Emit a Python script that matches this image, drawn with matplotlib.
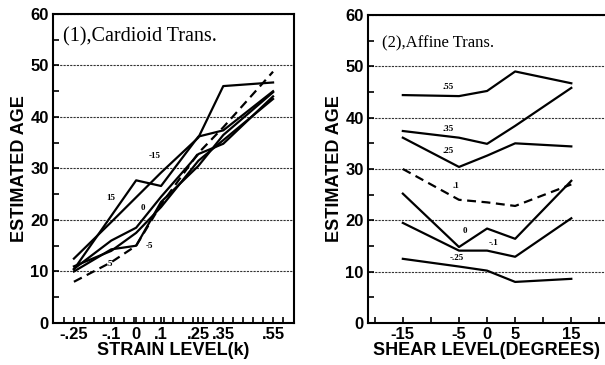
import numpy as np
import matplotlib
matplotlib.use('Agg')
import matplotlib.pyplot as plt

# (1) cardioid transformation: estimated age vs strain level, one line per shear level
strain_levels = [-0.25, -0.1, 0, 0.1, 0.25, 0.35, 0.55]
strain_tick_labels = ['-.25', '-.1', '0', '.1', '.25', '.35', '.55']
card_shear_15 = [10.4, 20.8, 27.7, 26.6, 36.2, 37.4, 45.0]
card_shear_m15 = [12.5, 19.6, 24.4, 29.2, 36.0, 46.0, 46.7]
card_shear_0 = [10.5, 16.0, 18.5, 24.5, 32.8, 34.8, 44.0]
card_shear_m5 = [10.0, 14.3, 15.0, 23.5, 30.5, 36.5, 44.8]
card_shear_5 = [11.0, 14.0, 17.5, 22.5, 31.5, 35.5, 43.5]
card_dashed = [8.0, 11.8, 15.0, 23.0, 33.0, 38.0, 48.8]

# (2) affine transformation: estimated age vs shear level, one line per strain level
shear_levels = [-15, -5, 0, 5, 15]
shear_tick_labels = ['-15', '-5', '0', '5', '15']
aff_k055 = [44.4, 44.2, 45.2, 49.0, 46.7]
aff_k035 = [37.4, 36.1, 34.9, 38.4, 45.8]
aff_k025 = [36.1, 30.4, 32.6, 35.0, 34.4]
aff_k01 = [30.0, 24.0, 23.5, 22.8, 27.0]
aff_k0 = [25.2, 14.8, 18.4, 16.4, 27.7]
aff_km01 = [19.5, 14.1, 14.1, 12.9, 20.4]
aff_km025 = [12.5, 11.0, 10.2, 8.0, 8.6]

age_ticks = [0, 10, 20, 30, 40, 50, 60]

SOLID = dict(color='black', linewidth=1.6, linestyle='-')
DASHED = dict(color='black', linewidth=1.6, linestyle=(0, (4, 2.5)))

# (label, values, style, anchor index, label offset in points)
cardioid_lines = [
    ('15', card_shear_15, SOLID, 1, (0, 13)),
    ('-15', card_shear_m15, SOLID, 3, (-4.3, 12.2)),
    ('0', card_shear_0, SOLID, 2, (4.7, 14.4)),
    ('-5', card_shear_m5, SOLID, 2, (9.5, 0)),
    ('5', card_shear_5, SOLID, 1, (-0.9, -9.6)),
    (None, card_dashed, DASHED, 0, (0, 0)),
]
affine_lines = [
    ('.55', aff_k055, SOLID, 1, (-7.7, 6.3)),
    ('.35', aff_k035, SOLID, 1, (-7.7, 5.9)),
    ('.25', aff_k025, SOLID, 1, (-7.7, 11.8)),
    ('.1', aff_k01, DASHED, 1, (-2.4, 10)),
    ('0', aff_k0, SOLID, 1, (4, 11.4)),
    ('-.1', aff_km01, SOLID, 2, (4.5, 5.2)),
    ('-.25', aff_km025, SOLID, 1, (-1.6, 6.3)),
]

plt.rcParams['font.family'] = ['Liberation Sans', 'DejaVu Sans']


def style_axis(ax, xlabel):
    ax.set_ylim(0, 60)
    ax.set_yticks(age_ticks)
    ax.set_yticks(np.arange(5, 60, 10), minor=True)
    ax.yaxis.grid(True, which='major', color='#333333', linestyle=(0, (2, 1)), linewidth=0.8)
    ax.set_axisbelow(True)
    ax.tick_params(which='both', direction='in', length=4, width=1.2)
    ax.tick_params(which='major', labelsize=12, pad=3)
    for lbl in ax.get_xticklabels() + ax.get_yticklabels():
        lbl.set_fontweight('bold')
    for sp in ax.spines.values():
        sp.set_linewidth(1.5)
    ax.set_ylabel('ESTIMATED AGE', fontsize=13, fontweight='bold', labelpad=2)
    ax.set_xlabel(xlabel, fontsize=13, fontweight='bold', labelpad=0)


def draw_lines(ax, xs, lines):
    for label, values, style, idx, offset in lines:
        ax.plot(xs, values, **style)
        if label is not None:
            ax.annotate(label, (xs[idx], values[idx]), xytext=offset,
                        textcoords='offset points', ha='center', va='center',
                        fontsize=6.5, fontweight='bold', family='Liberation Serif')


fig = plt.figure(figsize=(6.05, 3.65), dpi=100)

ax1 = fig.add_axes([0.0876, 0.1151, 0.3983, 0.8466])
draw_lines(ax1, strain_levels, cardioid_lines)
ax1.set_xlim(-0.334, 0.634)
ax1.set_xticks(strain_levels)
ax1.set_xticklabels(strain_tick_labels)
ax1.set_xticks(np.arange(-0.29, 0.62, 0.04), minor=True)
style_axis(ax1, 'STRAIN LEVEL(k)')
ax1.text(0.041, 0.926, '(1),Cardioid Trans.', transform=ax1.transAxes,
         family='Liberation Serif', fontsize=14.5, va='center', ha='left')

ax2 = fig.add_axes([0.6083, 0.1151, 0.3917, 0.8438])
draw_lines(ax2, shear_levels, affine_lines)
ax2.set_xlim(-21.2, 21)
ax2.set_xticks(shear_levels)
ax2.set_xticklabels(shear_tick_labels)
ax2.set_xticks(np.arange(-20, 21, 5), minor=True)
style_axis(ax2, 'SHEAR LEVEL(DEGREES)')
ax2.spines['right'].set_visible(False)
ax2.text(0.059, 0.909, '(2),Affine Trans.', transform=ax2.transAxes,
         family='Liberation Serif', fontsize=12, va='center', ha='left')

fig.savefig('out.png', dpi=100)
